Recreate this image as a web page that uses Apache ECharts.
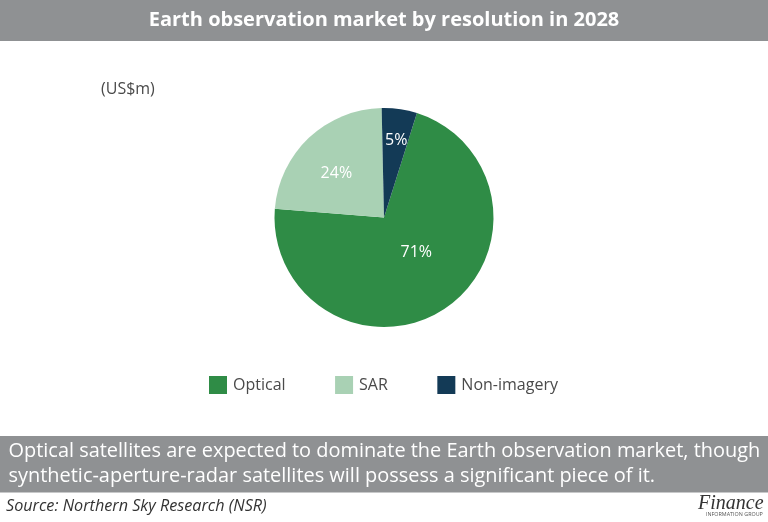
<!DOCTYPE html>
<html>
<head>
<meta charset="UTF-8"/>
<title>Earth observation market</title>
<script src="https://cdn.jsdelivr.net/npm/echarts@6/dist/echarts.min.js"></script>
<style>
html,body{margin:0;padding:0;background:#fff;}
#main{width:768px;height:522px;}
</style>
</head>
<body>
<div id="main"></div>
<script>
var categories = ['Optical', 'SAR', 'Non-imagery'];
var shares = [71.4, 23.4, 5.2]; // slice sizes
var shareLabels = ['71%', '24%', '5%'];
var sliceColors = ['#2f8c46', '#a9d1b4', '#133a56'];
var labelOffsets = [[0, -13], [-8, -2], [4, -20]];

var font = '"Open Sans"';
var chart = echarts.init(document.getElementById('main'));

var pieData = categories.map(function (name, i) {
    return {
        name: name,
        value: shares[i],
        itemStyle: {color: sliceColors[i]},
        label: {formatter: shareLabels[i], offset: labelOffsets[i]}
    };
});

chart.setOption({
    animation: false,
    backgroundColor: '#fff',
    legend: {
        left: 204,
        top: 371,
        itemWidth: 18,
        itemHeight: 18,
        itemGap: 49.5,
        icon: 'rect',
        textStyle: {fontFamily: font, fontSize: 16, color: '#4a4a4a', padding: [0, 0, 0, 1]},
        data: categories
    },
    series: [{
        type: 'pie',
        center: [384, 217.5],
        radius: [0, 109.5],
        startAngle: 72.5,
        clockwise: true,
        silent: true,
        label: {position: 'inside', fontFamily: font, fontSize: 16, color: '#fff'},
        labelLine: {show: false},
        data: pieData
    }],
    graphic: [
        {type: 'rect', shape: {x: 0, y: 0, width: 768, height: 41}, style: {fill: '#8f9193'}},
        {type: 'text', x: 384, y: 20.5, style: {text: 'Earth observation market by resolution in 2028', fill: '#fff', font: 'bold 20px ' + font, align: 'center', verticalAlign: 'middle'}},
        {type: 'text', x: 101, y: 89, style: {text: '(US$m)', fill: '#4a4a4a', font: '16px ' + font, align: 'left', verticalAlign: 'middle'}},
        {type: 'rect', shape: {x: 0, y: 436, width: 768, height: 56.5}, style: {fill: '#8f9193'}},
        {type: 'text', x: 8.5, y: 451, style: {text: 'Optical satellites are expected to dominate the Earth observation market, though', fill: '#fff', font: '19.95px ' + font, align: 'left', verticalAlign: 'middle'}},
        {type: 'text', x: 8.5, y: 476, style: {text: 'synthetic-aperture-radar satellites will possess a significant piece of it.', fill: '#fff', font: '19.95px ' + font, align: 'left', verticalAlign: 'middle'}},
        {type: 'text', x: 6, y: 506, style: {text: 'Source: Northern Sky Research (NSR)', fill: '#333', font: 'italic 16.2px ' + font, align: 'left', verticalAlign: 'middle'}},
        {type: 'text', x: 698, y: 504, style: {text: 'Finance', fill: '#333', font: 'italic 20px "Liberation Serif"', align: 'left', verticalAlign: 'middle'}},
        {type: 'text', x: 706, y: 514, style: {text: 'INFORMATION GROUP', fill: '#555', font: '5.4px ' + font, align: 'left', verticalAlign: 'middle'}}
    ]
});
</script>
</body>
</html>
